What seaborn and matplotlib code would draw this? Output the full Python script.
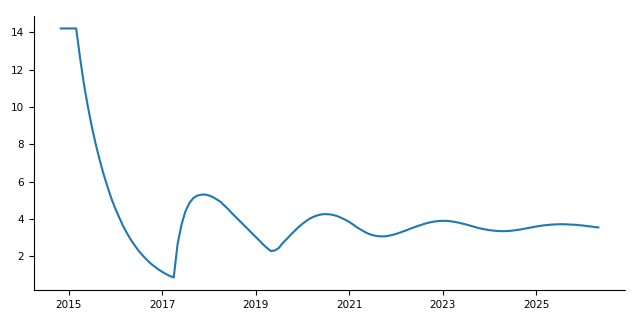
import matplotlib
matplotlib.use("Agg")
import matplotlib.pyplot as plt
import matplotlib.dates as mdates
import matplotlib.ticker as mticker
import seaborn as sns
import pandas as pd

# Monthly observations, Nov 2014 .. May 2026
start_month = "2014-11-01"
end_month = "2026-05-01"

plateau = [14.2, 14.2, 14.2, 14.2]  # Nov 2014 - Feb 2015

decay = [14.2, 12.6, 11.2, 10.0, 8.95, 8.0, 7.15, 6.4, 5.72, 5.1,
         4.55, 4.07, 3.63, 3.24, 2.89, 2.58, 2.3, 2.05, 1.83, 1.63,
         1.46, 1.31, 1.17, 1.05, 0.95]  # Mar 2015 - Mar 2017

oscillation = [0.87, 2.65, 3.70, 4.40, 4.85, 5.12, 5.25, 5.30, 5.31, 5.26,
               5.17, 5.06, 4.92, 4.72, 4.52, 4.30, 4.09, 3.88, 3.67, 3.46,
               3.25, 3.04, 2.83, 2.63, 2.44, 2.28, 2.32, 2.45, 2.72, 2.93,
               3.15, 3.36, 3.56, 3.74, 3.90, 4.03, 4.13, 4.20, 4.25, 4.26,
               4.25, 4.21, 4.15, 4.06, 3.96, 3.84, 3.70, 3.56, 3.43, 3.31,
               3.21, 3.14, 3.09, 3.07, 3.07, 3.10, 3.14, 3.20, 3.27, 3.34,
               3.42, 3.50, 3.58, 3.65, 3.72, 3.78, 3.83, 3.87, 3.89, 3.90,
               3.90, 3.88, 3.85, 3.81, 3.76, 3.71, 3.65, 3.59, 3.53, 3.48,
               3.44, 3.40, 3.38, 3.36, 3.35, 3.35, 3.36, 3.38, 3.41, 3.44,
               3.48, 3.52, 3.56, 3.60, 3.63, 3.66, 3.68, 3.70, 3.71, 3.72,
               3.72, 3.71, 3.70, 3.69, 3.67, 3.65, 3.62, 3.60, 3.57, 3.55]  # Apr 2017 - May 2026

tick_years = [2015, 2017, 2019, 2021, 2023, 2025]

values = plateau + decay + oscillation
dates = pd.date_range(start_month, end_month, freq="MS")
df = pd.DataFrame({"date": dates, "value": values})

fig, ax = plt.subplots(figsize=(6.4, 3.2), dpi=100)
sns.lineplot(data=df, x="date", y="value", ax=ax, color="#1f77b4", linewidth=1.5)
ax.set_xlabel("")
ax.set_ylabel("")
ax.xaxis.set_major_locator(mticker.FixedLocator(
    [mdates.date2num(pd.Timestamp(f"{y}-01-01")) for y in tick_years]))
ax.xaxis.set_major_formatter(mdates.DateFormatter("%Y"))
ax.set_yticks([2, 4, 6, 8, 10, 12, 14])
ax.tick_params(labelsize=7.5)
sns.despine(ax=ax)
fig.subplots_adjust(left=0.053, right=0.977, top=0.95, bottom=0.094)
fig.savefig("out.png", dpi=100)
